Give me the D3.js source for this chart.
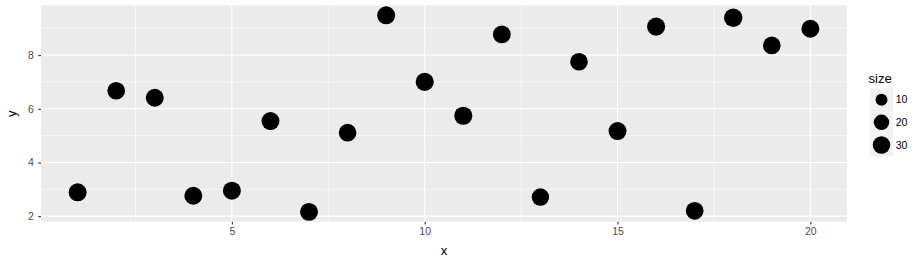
<!DOCTYPE html>
<html><head><meta charset="utf-8">
<script src="https://cdn.jsdelivr.net/npm/d3@7"></script>
<style>body{margin:0;background:#fff}svg{display:block;font-family:"Liberation Sans",Arial,sans-serif}</style>
</head><body>
<script>
const xValues = [1,2,3,4,5,6,7,8,9,10,11,12,13,14,15,16,17,18,19,20];
const yValues = [2.89,6.67,6.41,2.76,2.95,5.54,2.16,5.11,9.48,7.00,5.74,8.77,2.71,7.75,5.17,9.06,2.20,9.39,8.36,8.98];
const sizeValues = [33,31,33,33,33,33,33,31,33,34,34,32,30,31,33,34,32,36,31,33];
const xTicks = [5,10,15,20];
const yTicks = [2,4,6,8];
const legendBreaks = [10,20,30];

const W = 920, H = 258;
const m = {left:41, right:847, top:5.5, bottom:221.7};
const svg = d3.select("body").append("svg").attr("width",W).attr("height",H);

function expand(ext){const r=ext[1]-ext[0];return [ext[0]-0.05*r, ext[1]+0.05*r];}
const x = d3.scaleLinear().domain(expand(d3.extent(xValues))).range([m.left,m.right]);
const y = d3.scaleLinear().domain(expand(d3.extent(yValues))).range([m.bottom,m.top]);
// size -> radius (area-like scale)
const rs = d3.scaleSqrt().domain([0,31.5]).range([0,4.52]);
const r = v => 5.01 + rs(v-8.5);

svg.append("rect").attr("x",m.left).attr("y",m.top).attr("width",m.right-m.left).attr("height",m.bottom-m.top).attr("fill","#EBEBEB");

const xMinor = [2.5,7.5,12.5,17.5];
const yMinor = [3,5,7,9];
const g = svg.append("g");
xMinor.forEach(v=>g.append("line").attr("x1",x(v)).attr("x2",x(v)).attr("y1",m.top).attr("y2",m.bottom).attr("stroke","#fff").attr("stroke-width",0.55));
yMinor.forEach(v=>g.append("line").attr("y1",y(v)).attr("y2",y(v)).attr("x1",m.left).attr("x2",m.right).attr("stroke","#fff").attr("stroke-width",0.55));
xTicks.forEach(v=>g.append("line").attr("x1",x(v)).attr("x2",x(v)).attr("y1",m.top).attr("y2",m.bottom).attr("stroke","#fff").attr("stroke-width",1.1));
yTicks.forEach(v=>g.append("line").attr("y1",y(v)).attr("y2",y(v)).attr("x1",m.left).attr("x2",m.right).attr("stroke","#fff").attr("stroke-width",1.1));

// axes
const xAxis = d3.axisBottom(x).tickValues(xTicks).tickSize(2.75).tickPadding(3.3);
const yAxis = d3.axisLeft(y).tickValues(yTicks).tickSize(2.75).tickPadding(4.3);
const gx = svg.append("g").attr("transform",`translate(0,${m.bottom})`).call(xAxis);
const gy = svg.append("g").attr("transform",`translate(${m.left},0)`).call(yAxis);
[gx,gy].forEach(a=>{a.select(".domain").remove();a.selectAll(".tick line").attr("stroke","#333").attr("stroke-width",1.1);
 a.selectAll(".tick text").attr("fill","#4D4D4D").style("font-size","10.5px");});

// points
const data = xValues.map((d,i)=>({x:d,y:yValues[i],s:sizeValues[i]}));
svg.append("g").selectAll("circle").data(data).join("circle")
 .attr("cx",d=>x(d.x)).attr("cy",d=>y(d.y)).attr("r",d=>r(d.s)).attr("fill","#000");

// axis titles
svg.append("text").attr("x",(m.left+m.right)/2).attr("y",254.5).attr("text-anchor","middle").style("font-size","13.2px").attr("fill","#000").text("x");
svg.append("text").attr("transform",`translate(15.5,${(m.top+m.bottom)/2}) rotate(-90)`).attr("text-anchor","middle").style("font-size","13.2px").attr("fill","#000").text("y");

// legend
const lg = svg.append("g");
lg.append("text").attr("x",868.5).attr("y",82.7).style("font-size","13.2px").attr("fill","#000").text("size");
const keyH = 22.7, keyTop = 88.3, keyX = 870, keyW = 23;
legendBreaks.forEach((b,i)=>{
  const cy = keyTop + keyH*i + keyH/2;
  lg.append("rect").attr("x",keyX).attr("y",keyTop+keyH*i).attr("width",keyW).attr("height",keyH).attr("fill","#F2F2F2");
  lg.append("circle").attr("cx",keyX+keyW/2).attr("cy",cy).attr("r",r(b)).attr("fill","#000");
  lg.append("text").attr("x",895.7).attr("y",cy).attr("dy","0.35em").style("font-size","10.5px").attr("fill","#000").text(b);
});
</script>
</body></html>
